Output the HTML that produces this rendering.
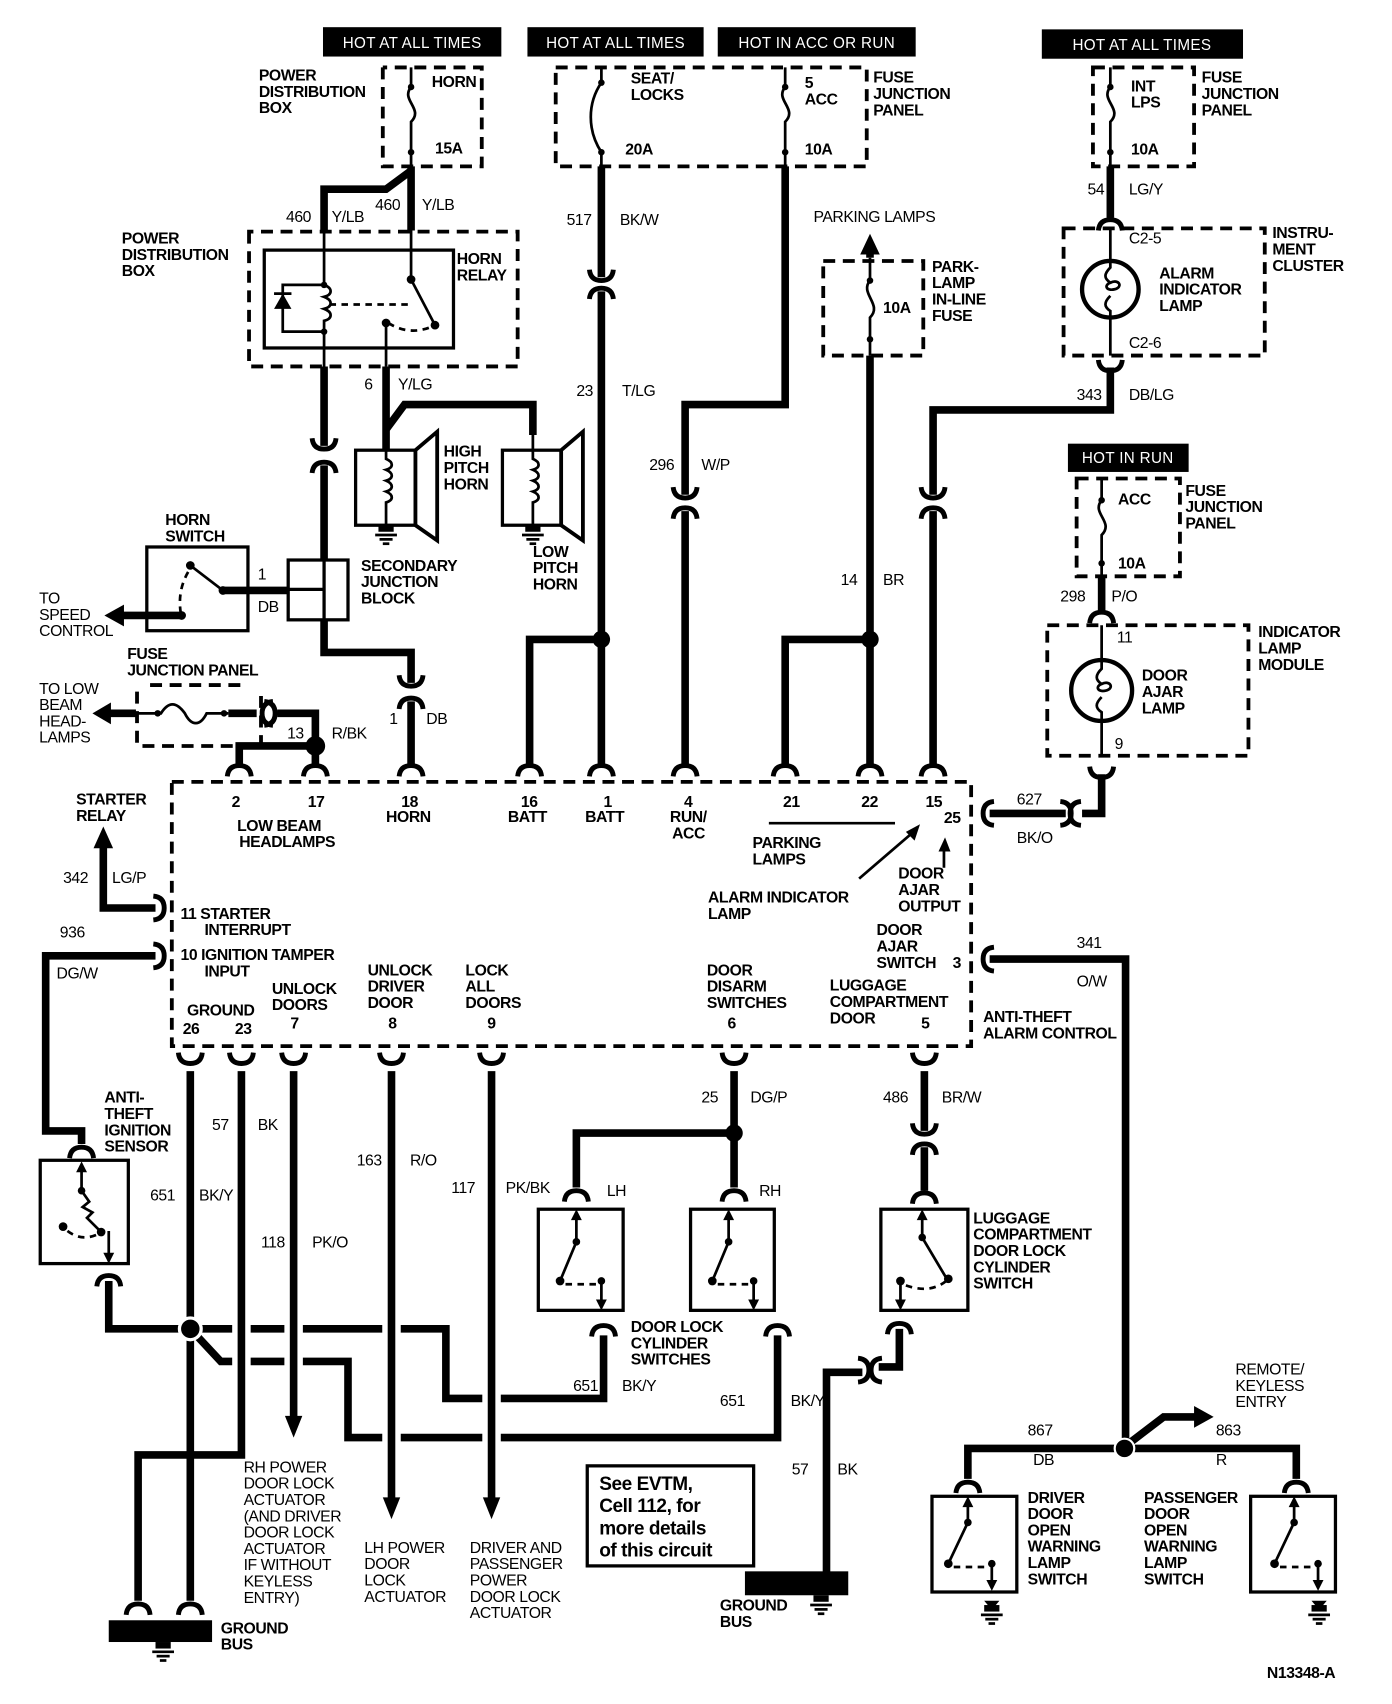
<!DOCTYPE html>
<html><head><meta charset="utf-8"><style>
html,body{margin:0;padding:0;background:#fff}
svg{display:block}
text{font-family:"Liberation Sans",sans-serif;font-size:14.5px;font-weight:bold;fill:#000;letter-spacing:-0.4px}
.n{font-weight:normal}
.h{fill:#fff;font-weight:normal;font-size:14px;letter-spacing:0.3px}
.w{stroke:#000;stroke-width:7;fill:none}
.wg{stroke:#fff;stroke-width:17;fill:none}
.t{stroke:#000;stroke-width:2.5;fill:none}
.d{stroke:#000;stroke-width:3.5;fill:none;stroke-dasharray:11 7}
.b{stroke:#000;stroke-width:3;fill:none}
</style></head><body>
<svg width="1392" height="1704" viewBox="0 0 1280 1567" preserveAspectRatio="none" xmlns="http://www.w3.org/2000/svg">
<defs>
<path id="cd" d="M-11,7 Q-10,-3 0,-3 Q10,-3 11,7" stroke="#000" stroke-width="4.5" fill="none"/>
<path id="cu" d="M-11,-7 Q-10,3 0,3 Q10,3 11,-7" stroke="#000" stroke-width="4.5" fill="none"/>
<path id="cl" d="M7,-11 Q-3,-10 -3,0 Q-3,10 7,11" stroke="#000" stroke-width="4.5" fill="none"/>
<path id="cr" d="M-7,-11 Q3,-10 3,0 Q3,10 -7,11" stroke="#000" stroke-width="4.5" fill="none"/>
<g id="gnd"><rect x="-7" y="0" width="14" height="6"/><line x1="-10" y1="9" x2="10" y2="9" stroke="#000" stroke-width="2.5"/><line x1="-6" y1="13" x2="6" y2="13" stroke="#000" stroke-width="2.5"/><line x1="-3" y1="17" x2="3" y2="17" stroke="#000" stroke-width="2.5"/></g>
</defs>

<!-- headers -->
<rect x="297" y="25" width="164" height="27"/><text class="h" x="379" y="44" text-anchor="middle">HOT AT ALL TIMES</text>
<rect x="485" y="25" width="162" height="27"/><text class="h" x="566" y="44" text-anchor="middle">HOT AT ALL TIMES</text>
<rect x="660" y="25" width="182" height="27"/><text class="h" x="751" y="44" text-anchor="middle">HOT IN ACC OR RUN</text>
<rect x="958" y="27" width="185" height="27"/><text class="h" x="1050" y="46" text-anchor="middle">HOT AT ALL TIMES</text>
<rect x="982" y="408" width="111" height="26"/><text class="h" x="1037" y="426" text-anchor="middle">HOT IN RUN</text>

<!-- horn fuse -->
<path class="d" d="M352,62 V153 H443 V62 H352"/>
<text x="238" y="74">POWER<tspan x="238" dy="15">DISTRIBUTION</tspan><tspan x="238" dy="15">BOX</tspan></text>
<text x="397" y="80">HORN</text><text x="400" y="141">15A</text>
<path class="t" d="M378,62 V80 C368,92 390,100 378,112 V153"/><circle cx="378" cy="80" r="3"/><circle cx="378" cy="140" r="3"/>
<path class="w" d="M378,153 V212 M378,157 L355,174 H298 V212"/>
<text class="n" x="263" y="204">460</text><text class="n" x="305" y="204">Y/LB</text>
<text class="n" x="345" y="193">460</text><text class="n" x="388" y="193">Y/LB</text>

<!-- horn relay -->
<path class="d" d="M229,213 V337 H476 V213 Z"/>
<rect class="b" x="243" y="230" width="174" height="90"/>
<text x="112" y="224">POWER<tspan x="112" dy="15">DISTRIBUTION</tspan><tspan x="112" dy="15">BOX</tspan></text>
<text x="420" y="243">HORN<tspan x="420" dy="15">RELAY</tspan></text>
<path class="t" d="M298,212 V262 c8,3 8,9 0,11 c8,3 8,9 0,11 c8,3 8,9 0,11 V337"/>
<path class="t" d="M298,262 H260 V305 H298"/>
<polygon points="252,284 268,284 260,270"/><line x1="252" y1="270" x2="268" y2="270" stroke="#000" stroke-width="2.5"/>
<circle cx="298" cy="262" r="3"/><circle cx="298" cy="305" r="3"/>
<path class="t" d="M303,280 H380" stroke-dasharray="6 5"/>
<path class="t" d="M378,212 V257 L400,299"/><circle cx="378" cy="257" r="4"/><circle cx="400" cy="299" r="4"/>
<path class="t" d="M357,297 Q378,310 400,299" stroke-dasharray="6 5"/><circle cx="355" cy="297" r="4"/>
<path class="t" d="M355,297 V337"/>
<path class="w" d="M298,337 V410 M298,428 V515 M355,337 V414 M355,395 L372,372 H490 V400"/>
<use href="#cu" x="298" y="410"/><use href="#cd" x="298" y="428"/>
<text class="n" x="335" y="358">6</text><text class="n" x="366" y="358">Y/LG</text>

<!-- horns -->
<rect class="b" x="327" y="414" width="55" height="69" stroke-width="4"/>
<polygon points="382,414 402,397 402,497 382,483" fill="none" stroke="#000" stroke-width="3.5"/>
<path class="t" d="M355,414 v8 c7,3 7,8 0,10 c7,3 7,8 0,10 c7,3 7,8 0,10 c7,3 7,8 0,10 V483"/>
<use href="#gnd" x="355" y="483"/>
<text x="408" y="420">HIGH<tspan x="408" dy="15">PITCH</tspan><tspan x="408" dy="15">HORN</tspan></text>
<rect class="b" x="462" y="414" width="54" height="69" stroke-width="4"/>
<polygon points="516,414 536,397 536,497 516,483" fill="none" stroke="#000" stroke-width="3.5"/>
<path class="t" d="M490,400 v22 c7,3 7,8 0,10 c7,3 7,8 0,10 c7,3 7,8 0,10 c7,3 7,8 0,10 V483"/>
<use href="#gnd" x="490" y="483"/>
<text x="490" y="512">LOW<tspan x="490" dy="15">PITCH</tspan><tspan x="490" dy="15">HORN</tspan></text>

<!-- secondary junction block & horn switch -->
<rect class="b" x="265" y="515" width="55" height="55" stroke-width="4"/>
<line x1="265" y1="542" x2="298" y2="542" stroke="#000" stroke-width="3"/>
<line x1="298" y1="515" x2="298" y2="570" stroke="#000" stroke-width="3"/>
<text x="332" y="525">SECONDARY<tspan x="332" dy="15">JUNCTION</tspan><tspan x="332" dy="15">BLOCK</tspan></text>
<rect class="b" x="135" y="503" width="93" height="77" stroke-width="4"/>
<text x="152" y="483">HORN<tspan x="152" dy="15">SWITCH</tspan></text>
<path class="t" d="M175,520 L205,543"/><circle cx="175" cy="520" r="4"/><circle cx="205" cy="543" r="4"/>
<path class="t" d="M173,526 Q162,545 167,568" stroke-dasharray="6 5"/><circle cx="167" cy="566" r="4"/>
<path class="w" d="M205,543 H265 M167,566 H112"/><polygon points="96,566 114,556 114,576"/>
<text class="n" x="237" y="533">1</text><text class="n" x="237" y="563">DB</text>
<text class="n" x="36" y="555">TO<tspan x="36" dy="15">SPEED</tspan><tspan x="36" dy="15">CONTROL</tspan></text>
<path class="w" d="M298,570 V600 H378 V628 M378,645 V705"/>
<use href="#cu" x="378" y="628"/><use href="#cd" x="378" y="645"/>
<text class="n" x="358" y="666">1</text><text class="n" x="392" y="666">DB</text>

<!-- fuse junction panel low beam -->
<text x="117" y="606">FUSE<tspan x="117" dy="15">JUNCTION PANEL</tspan></text>
<path class="d" d="M138,630 H228 M240,640 V686 H130 M126,636 V686"/>
<path class="t" d="M125,656 H148 C155,645 162,645 170,656 C176,668 184,668 190,656 H210"/><circle cx="145" cy="656" r="3"/><circle cx="206" cy="656" r="3"/>
<path class="w" d="M210,656 H236 M255,656 H290 V686 M290,686 H220 V705 M290,686 V705 M125,656 H100"/>
<polygon points="85,656 102,646 102,666"/>
<use href="#cl" x="244" y="656"/><use href="#cr" x="250" y="656"/>
<circle cx="290" cy="686" r="9"/>
<text class="n" x="264" y="679">13</text><text class="n" x="305" y="679">R/BK</text>
<text class="n" x="36" y="638">TO LOW<tspan x="36" dy="15">BEAM</tspan><tspan x="36" dy="15">HEAD-</tspan><tspan x="36" dy="15">LAMPS</tspan></text>

<!-- center top fuses -->
<path class="d" d="M511,62 H797 V153 H511 Z"/>
<path class="t" d="M553,62 V76 C540,95 540,120 553,140 V153"/><circle cx="553" cy="76" r="3"/><circle cx="553" cy="140" r="3"/>
<path class="t" d="M722,62 V80 C712,92 734,100 722,112 V153"/><circle cx="722" cy="80" r="3"/><circle cx="722" cy="140" r="3"/>
<text x="580" y="77">SEAT/<tspan x="580" dy="15">LOCKS</tspan></text><text x="575" y="142">20A</text>
<text x="740" y="81">5<tspan x="740" dy="15">ACC</tspan></text><text x="740" y="142">10A</text>
<text x="803" y="76">FUSE<tspan x="803" dy="15">JUNCTION</tspan><tspan x="803" dy="15">PANEL</tspan></text>
<path class="w" d="M553,153 V255 M553,268 V705 M553,588 H487 V705"/>
<use href="#cu" x="553" y="255"/><use href="#cd" x="553" y="268"/><circle cx="553" cy="588" r="8"/>
<text class="n" x="521" y="207">517</text><text class="n" x="570" y="207">BK/W</text>
<text class="n" x="530" y="364">23</text><text class="n" x="572" y="364">T/LG</text>
<path class="w" d="M722,153 V372 H630 V455 M630,470 V705"/>
<use href="#cu" x="630" y="455"/><use href="#cd" x="630" y="470"/>
<text class="n" x="597" y="432">296</text><text class="n" x="645" y="432">W/P</text>

<!-- parking lamps -->
<text class="n" x="748" y="204">PARKING LAMPS</text>
<path class="d" d="M757,240 H849 V327 H757 Z"/>
<path class="t" d="M800,237 V258 C790,270 812,280 800,292 V327"/><circle cx="800" cy="258" r="3"/><circle cx="800" cy="312" r="3"/>
<path class="w" d="M800,237 V232"/><polygon points="800,215 791,234 809,234"/>
<text x="812" y="288">10A</text>
<text x="857" y="250">PARK-<tspan x="857" dy="15">LAMP</tspan><tspan x="857" dy="15">IN-LINE</tspan><tspan x="857" dy="15">FUSE</tspan></text>
<path class="w" d="M800,327 V705 M800,588 H722 V705"/><circle cx="800" cy="588" r="8"/>
<text class="n" x="773" y="538">14</text><text class="n" x="812" y="538">BR</text>

<!-- int lps / cluster -->
<path class="d" d="M1005,62 H1098 V153 H1005 Z"/>
<path class="t" d="M1021,62 V80 C1011,92 1033,100 1021,112 V153"/><circle cx="1021" cy="80" r="3"/><circle cx="1021" cy="140" r="3"/>
<text x="1040" y="84">INT<tspan x="1040" dy="15">LPS</tspan></text><text x="1040" y="142">10A</text>
<text x="1105" y="76">FUSE<tspan x="1105" dy="15">JUNCTION</tspan><tspan x="1105" dy="15">PANEL</tspan></text>
<path class="w" d="M1021,153 V200"/><use href="#cd" x="1021" y="205"/>
<text class="n" x="1000" y="179">54</text><text class="n" x="1038" y="179">LG/Y</text>
<path class="d" d="M978,210 H1163 V327 H978 Z"/>
<circle cx="1021" cy="266" r="26" fill="none" stroke="#000" stroke-width="4"/>
<path class="t" d="M1021,210 V246 c-6,6 -6,10 0,14 c8,-4 12,4 4,6 c-8,2 -10,-4 -4,-6 M1021,272 c-6,6 -6,10 0,14 V327"/>
<text class="n" x="1038" y="224">C2-5</text><text class="n" x="1038" y="320">C2-6</text>
<text x="1066" y="256">ALARM<tspan x="1066" dy="15">INDICATOR</tspan><tspan x="1066" dy="15">LAMP</tspan></text>
<text x="1170" y="219">INSTRU-<tspan x="1170" dy="15">MENT</tspan><tspan x="1170" dy="15">CLUSTER</tspan></text>
<use href="#cu" x="1021" y="338"/>
<path class="w" d="M1021,338 V377 H858 V455 M858,470 V705"/>
<use href="#cu" x="858" y="455"/><use href="#cd" x="858" y="470"/>
<text class="n" x="990" y="368">343</text><text class="n" x="1038" y="368">DB/LG</text>

<!-- hot in run / indicator lamp module -->
<path class="d" d="M990,440 H1085 V530 H990 Z"/>
<path class="t" d="M1013,440 V460 C1003,472 1025,480 1013,492 V530"/><circle cx="1013" cy="460" r="3"/><circle cx="1013" cy="518" r="3"/>
<text x="1028" y="464">ACC</text><text x="1028" y="523">10A</text>
<text x="1090" y="456">FUSE<tspan x="1090" dy="15">JUNCTION</tspan><tspan x="1090" dy="15">PANEL</tspan></text>
<path class="w" d="M1013,530 V562"/><use href="#cd" x="1013" y="566"/>
<text class="n" x="975" y="553">298</text><text class="n" x="1022" y="553">P/O</text>
<path class="d" d="M963,575 H1148 V695 H963 Z"/>
<circle cx="1013" cy="635" r="28" fill="none" stroke="#000" stroke-width="4"/>
<path class="t" d="M1013,575 V615 c-6,6 -6,10 0,14 c8,-4 12,4 4,6 c-8,2 -10,-4 -4,-6 M1013,641 c-6,6 -6,10 0,14 V695"/>
<text class="n" x="1027" y="591">11</text><text class="n" x="1025" y="689">9</text>
<text x="1050" y="626">DOOR<tspan x="1050" dy="15">AJAR</tspan><tspan x="1050" dy="15">LAMP</tspan></text>
<text x="1157" y="586">INDICATOR<tspan x="1157" dy="15">LAMP</tspan><tspan x="1157" dy="15">MODULE</tspan></text>
<use href="#cu" x="1013" y="712"/>
<path class="w" d="M1013,712 V748 H995 M980,748 H910"/>
<use href="#cl" x="987" y="748"/><use href="#cr" x="982" y="748"/>
<text class="n" x="935" y="740">627</text><text class="n" x="935" y="775">BK/O</text>

<!-- module -->
<path class="d" d="M158,719 H893 V962 H158 Z"/>
<g>
<use href="#cd" x="220" y="707"/><use href="#cd" x="290" y="707"/><use href="#cd" x="378" y="707"/><use href="#cd" x="487" y="707"/>
<use href="#cd" x="553" y="707"/><use href="#cd" x="630" y="707"/><use href="#cd" x="722" y="707"/><use href="#cd" x="800" y="707"/><use href="#cd" x="858" y="707"/>
<use href="#cu" x="175" y="975"/><use href="#cu" x="222" y="975"/><use href="#cu" x="270" y="975"/><use href="#cu" x="360" y="975"/>
<use href="#cu" x="452" y="975"/><use href="#cu" x="675" y="975"/><use href="#cu" x="850" y="975"/>
<use href="#cr" x="148" y="835"/><use href="#cr" x="148" y="879"/><use href="#cl" x="907" y="748"/><use href="#cl" x="907" y="882"/>
</g>
<text x="213" y="742">2</text><text x="283" y="742">17</text>
<text x="218" y="764">LOW BEAM<tspan x="220" dy="15">HEADLAMPS</tspan></text>
<text x="369" y="742">18<tspan x="355" dy="14">HORN</tspan></text>
<text x="479" y="742">16<tspan x="467" dy="14">BATT</tspan></text>
<text x="555" y="742">1<tspan x="538" dy="14">BATT</tspan></text>
<text x="629" y="742">4<tspan x="616" dy="14">RUN/</tspan><tspan x="618" dy="15">ACC</tspan></text>
<text x="720" y="742">21</text><text x="792" y="742">22</text><text x="851" y="742">15</text><text x="868" y="757">25</text>
<path class="t" d="M707,757 H823" stroke-width="2"/>
<text x="692" y="780">PARKING<tspan x="692" dy="15">LAMPS</tspan></text>
<text x="651" y="830">ALARM INDICATOR<tspan x="651" dy="15">LAMP</tspan></text>
<path class="t" d="M790,808 L840,765"/><polygon points="846,758 833,765 841,773"/>
<path class="t" d="M868,798 V780"/><polygon points="869,770 863,783 874,783"/>
<text x="826" y="808">DOOR<tspan x="826" dy="15">AJAR</tspan><tspan x="826" dy="15">OUTPUT</tspan></text>
<text x="806" y="860">DOOR<tspan x="806" dy="15">AJAR</tspan><tspan x="806" dy="15">SWITCH</tspan></text><text x="876" y="890">3</text>
<text x="166" y="845">11 STARTER<tspan x="188" dy="15">INTERRUPT</tspan></text>
<text x="166" y="883">10 IGNITION TAMPER<tspan x="188" dy="15">INPUT</tspan></text>
<text x="338" y="897">UNLOCK<tspan x="338" dy="15">DRIVER</tspan><tspan x="338" dy="15">DOOR</tspan></text>
<text x="428" y="897">LOCK<tspan x="428" dy="15">ALL</tspan><tspan x="428" dy="15">DOORS</tspan></text>
<text x="250" y="914">UNLOCK<tspan x="250" dy="15">DOORS</tspan></text>
<text x="172" y="934">GROUND</text>
<text x="168" y="951">26</text><text x="216" y="951">23</text><text x="267" y="946">7</text><text x="357" y="946">8</text><text x="448" y="946">9</text>
<text x="650" y="897">DOOR<tspan x="650" dy="15">DISARM</tspan><tspan x="650" dy="15">SWITCHES</tspan></text><text x="669" y="946">6</text>
<text x="763" y="911">LUGGAGE<tspan x="763" dy="15">COMPARTMENT</tspan><tspan x="763" dy="15">DOOR</tspan></text><text x="847" y="946">5</text>
<text x="904" y="940">ANTI-THEFT<tspan x="904" dy="15">ALARM CONTROL</tspan></text>

<!-- left side -->
<text x="70" y="740">STARTER<tspan x="70" dy="15">RELAY</tspan></text>
<path class="w" d="M143,835 H95 V778"/><polygon points="95,760 86,780 104,780"/>
<text class="n" x="58" y="812">342</text><text class="n" x="103" y="812">LG/P</text>
<path class="w" d="M143,879 H42 V1040 H75 V1052"/>
<text class="n" x="55" y="862">936</text><text class="n" x="52" y="900">DG/W</text>
<use href="#cd" x="75" y="1058"/>
<text x="96" y="1014">ANTI-<tspan x="96" dy="15">THEFT</tspan><tspan x="96" dy="15">IGNITION</tspan><tspan x="96" dy="15">SENSOR</tspan></text>
<rect class="b" x="37" y="1067" width="81" height="95" stroke-width="4"/>
<path class="t" d="M75,1072 V1095 L82,1105 L76,1110 L85,1115 L80,1120 L92,1132 M100,1132 V1160"/>
<polygon points="75,1068 70,1078 80,1078"/><polygon points="100,1162 95,1152 105,1152"/>
<circle cx="75" cy="1095" r="3.5"/><circle cx="93" cy="1133" r="4"/><circle cx="58" cy="1128" r="4"/>
<path class="t" d="M62,1132 Q75,1142 90,1135" stroke-dasharray="6 5"/>
<use href="#cd" x="100" y="1176"/>

<!-- bottom wiring (horizontals first) -->
<path class="w" d="M100,1178 V1222 H410 V1286 H555 V1228"/>
<path class="w" d="M175,1222 L203,1252 H320 V1322 H715 V1228"/>
<path class="wg" d="M222,990 V1330 M270,990 V1310 M360,990 V1380 M452,990 V1380"/>
<path class="w" d="M175,985 V1472 M222,985 V1338 H127 V1472 M270,985 V1305 M360,985 V1380 M452,985 V1380"/>
<polygon points="270,1322 262,1302 278,1302"/><polygon points="360,1397 352,1377 368,1377"/><polygon points="452,1397 444,1377 460,1377"/>
<circle cx="175" cy="1222" r="10" stroke="#fff" stroke-width="3"/>
<text class="n" x="195" y="1039">57</text><text class="n" x="237" y="1039">BK</text>
<text class="n" x="138" y="1104">651</text><text class="n" x="183" y="1104">BK/Y</text>
<text class="n" x="240" y="1147">118</text><text class="n" x="287" y="1147">PK/O</text>
<text class="n" x="328" y="1072">163</text><text class="n" x="377" y="1072">R/O</text>
<text class="n" x="415" y="1097">117</text><text class="n" x="465" y="1097">PK/BK</text>
<text class="n" x="527" y="1279">651</text><text class="n" x="572" y="1279">BK/Y</text>
<text class="n" x="662" y="1293">651</text><text class="n" x="727" y="1293">BK/Y</text>
<use href="#cd" x="127" y="1478"/><use href="#cd" x="175" y="1478"/>
<rect x="100" y="1490" width="95" height="20"/><use href="#gnd" x="150" y="1510"/>
<text x="203" y="1502">GROUND<tspan x="203" dy="15">BUS</tspan></text>
<text class="n" x="224" y="1354">RH POWER<tspan x="224" dy="15">DOOR LOCK</tspan><tspan x="224" dy="15">ACTUATOR</tspan><tspan x="224" dy="15">(AND DRIVER</tspan><tspan x="224" dy="15">DOOR LOCK</tspan><tspan x="224" dy="15">ACTUATOR</tspan><tspan x="224" dy="15">IF WITHOUT</tspan><tspan x="224" dy="15">KEYLESS</tspan><tspan x="224" dy="15">ENTRY)</tspan></text>
<text class="n" x="335" y="1428">LH POWER<tspan x="335" dy="15">DOOR</tspan><tspan x="335" dy="15">LOCK</tspan><tspan x="335" dy="15">ACTUATOR</tspan></text>
<text class="n" x="432" y="1428">DRIVER AND<tspan x="432" dy="15">PASSENGER</tspan><tspan x="432" dy="15">POWER</tspan><tspan x="432" dy="15">DOOR LOCK</tspan><tspan x="432" dy="15">ACTUATOR</tspan></text>

<!-- door lock cylinder switches -->
<path class="w" d="M675,985 V1092 M675,1042 H530 V1092"/><circle cx="675" cy="1042" r="8"/>
<text class="n" x="645" y="1014">25</text><text class="n" x="690" y="1014">DG/P</text>
<use href="#cd" x="530" y="1098"/><use href="#cd" x="675" y="1098"/>
<text class="n" x="558" y="1100">LH</text><text class="n" x="698" y="1100">RH</text>
<g>
<rect class="b" x="495" y="1112" width="78" height="93" stroke-width="4"/>
<path class="t" d="M530,1115 V1142 L515,1178 M553,1178 V1202 M530,1142"/><circle cx="530" cy="1142" r="3.5"/><circle cx="515" cy="1178" r="4"/><circle cx="553" cy="1178" r="3.5"/>
<path class="t" d="M520,1181 H550" stroke-dasharray="6 5"/>
<polygon points="530,1112 525,1122 535,1122"/><polygon points="553,1205 548,1195 558,1195"/>
<rect class="b" x="635" y="1112" width="77" height="93" stroke-width="4"/>
<path class="t" d="M670,1115 V1142 L655,1178 M693,1178 V1202"/><circle cx="670" cy="1142" r="3.5"/><circle cx="655" cy="1178" r="4"/><circle cx="693" cy="1178" r="3.5"/>
<path class="t" d="M660,1181 H690" stroke-dasharray="6 5"/>
<polygon points="670,1112 665,1122 675,1122"/><polygon points="693,1205 688,1195 698,1195"/>
</g>
<use href="#cd" x="555" y="1222"/><use href="#cd" x="715" y="1222"/>
<text x="580" y="1225">DOOR LOCK<tspan x="580" dy="15">CYLINDER</tspan><tspan x="580" dy="15">SWITCHES</tspan></text>

<!-- luggage -->
<path class="w" d="M850,985 V1040 M850,1055 V1095"/>
<use href="#cu" x="850" y="1040"/><use href="#cd" x="850" y="1055"/>
<text class="n" x="812" y="1014">486</text><text class="n" x="866" y="1014">BR/W</text>
<use href="#cd" x="850" y="1100"/>
<rect class="b" x="810" y="1112" width="80" height="93" stroke-width="4"/>
<path class="t" d="M848,1115 V1138 L870,1175 M828,1178 V1202"/><circle cx="848" cy="1138" r="3.5"/><circle cx="872" cy="1176" r="4"/><circle cx="828" cy="1178" r="4"/>
<path class="t" d="M833,1182 Q855,1190 870,1178" stroke-dasharray="6 5"/>
<polygon points="848,1112 843,1122 853,1122"/><polygon points="828,1205 823,1195 833,1195"/>
<text x="895" y="1125">LUGGAGE<tspan x="895" dy="15">COMPARTMENT</tspan><tspan x="895" dy="15">DOOR LOCK</tspan><tspan x="895" dy="15">CYLINDER</tspan><tspan x="895" dy="15">SWITCH</tspan></text>
<use href="#cd" x="827" y="1220"/>
<path class="w" d="M827,1222 V1257 H808 M793,1262 H760 V1448"/>
<use href="#cl" x="804" y="1260"/><use href="#cr" x="796" y="1260"/>
<text class="n" x="728" y="1356">57</text><text class="n" x="770" y="1356">BK</text>
<rect x="685" y="1445" width="95" height="22"/><use href="#gnd" x="755" y="1467"/>
<text x="662" y="1481">GROUND<tspan x="662" dy="15">BUS</tspan></text>
<rect class="b" x="540" y="1348" width="153" height="92" stroke-width="3"/>
<text x="551" y="1370" style="font-size:17.5px">See EVTM,<tspan x="551" dy="20.5">Cell 112, for</tspan><tspan x="551" dy="20.5">more details</tspan><tspan x="551" dy="20.5">of this circuit</tspan></text>

<!-- right bottom -->
<path class="w" d="M910,882 H1035 V1330"/>
<text class="n" x="990" y="872">341</text><text class="n" x="990" y="907">O/W</text>
<path class="w" d="M1034,1332 H890 V1360 M1034,1332 H1192 V1360"/>
<path class="w" d="M1036,1329 L1070,1303 H1100"/><polygon points="1116,1303 1098,1293 1098,1313"/>
<circle cx="1034" cy="1332" r="9" stroke="#fff" stroke-width="2"/>
<text class="n" x="1136" y="1264">REMOTE/<tspan x="1136" dy="15">KEYLESS</tspan><tspan x="1136" dy="15">ENTRY</tspan></text>
<text class="n" x="945" y="1320">867</text><text class="n" x="950" y="1347">DB</text>
<text class="n" x="1118" y="1320">863</text><text class="n" x="1118" y="1347">R</text>
<use href="#cd" x="890" y="1366"/><use href="#cd" x="1192" y="1366"/>
<rect class="b" x="857" y="1376" width="78" height="88" stroke-width="4"/>
<path class="t" d="M890,1379 V1400 L872,1438 M912,1438 V1460"/><circle cx="890" cy="1400" r="3.5"/><circle cx="872" cy="1438" r="4"/><circle cx="912" cy="1438" r="3.5"/>
<path class="t" d="M877,1441 H908" stroke-dasharray="6 5"/>
<polygon points="890,1376 885,1386 895,1386"/><polygon points="912,1463 907,1453 917,1453"/>
<rect class="b" x="1150" y="1376" width="78" height="88" stroke-width="4"/>
<path class="t" d="M1190,1379 V1400 L1172,1438 M1212,1438 V1460"/><circle cx="1190" cy="1400" r="3.5"/><circle cx="1172" cy="1438" r="4"/><circle cx="1212" cy="1438" r="3.5"/>
<path class="t" d="M1177,1441 H1208" stroke-dasharray="6 5"/>
<polygon points="1190,1376 1185,1386 1195,1386"/><polygon points="1212,1463 1207,1453 1217,1453"/>
<path d="M905,1472 L919,1472 L914,1478 L910,1478 Z"/><use href="#gnd" x="912" y="1476"/>
<path d="M1206,1472 L1220,1472 L1215,1478 L1211,1478 Z"/><use href="#gnd" x="1213" y="1476"/>
<text x="945" y="1382">DRIVER<tspan x="945" dy="15">DOOR</tspan><tspan x="945" dy="15">OPEN</tspan><tspan x="945" dy="15">WARNING</tspan><tspan x="945" dy="15">LAMP</tspan><tspan x="945" dy="15">SWITCH</tspan></text>
<text x="1052" y="1382">PASSENGER<tspan x="1052" dy="15">DOOR</tspan><tspan x="1052" dy="15">OPEN</tspan><tspan x="1052" dy="15">WARNING</tspan><tspan x="1052" dy="15">LAMP</tspan><tspan x="1052" dy="15">SWITCH</tspan></text>
<text x="1165" y="1543">N13348-A</text>
</svg>
</body></html>
